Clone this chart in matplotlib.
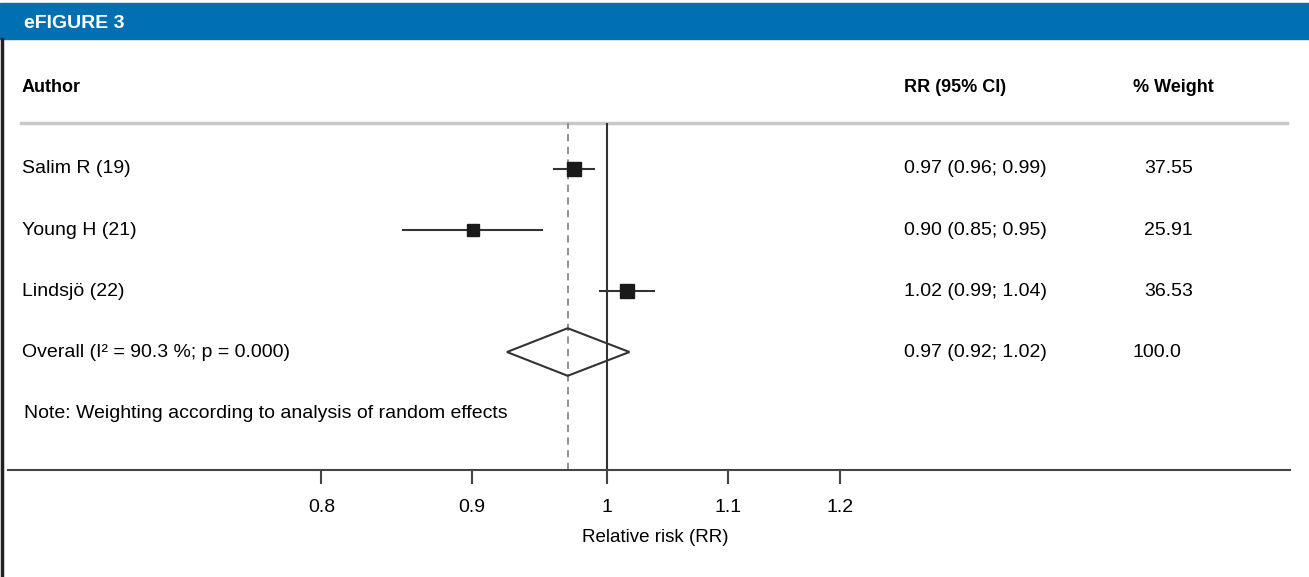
import matplotlib
matplotlib.use('Agg')
import matplotlib.pyplot as plt
from matplotlib.patches import Rectangle, Polygon
from matplotlib.lines import Line2D
import numpy as np

# Daten der Studien
authors = ['Salim R (19)', 'Young H (21)', 'Lindsjö (22)']
rr = [0.975, 0.901, 1.016]
ci_low = [0.960, 0.853, 0.995]
ci_high = [0.990, 0.951, 1.038]
weight = [37.55, 25.91, 36.53]
rr_text = ['0.97 (0.96; 0.99)', '0.90 (0.85; 0.95)', '1.02 (0.99; 1.04)']
weight_text = ['37.55', '25.91', '36.53']

# Gesamteffekt
overall_label = 'Overall (I² = 90.3 %; p = 0.000)'
overall_rr = 0.970
overall_low = 0.925
overall_high = 1.018
overall_text = '0.97 (0.92; 1.02)'
overall_weight = '100.0'

note = 'Note: Weighting according to analysis of random effects'
ticks = [0.8, 0.9, 1, 1.1, 1.2]
tick_labels = ['0.8', '0.9', '1', '1.1', '1.2']

plt.rcParams['font.family'] = ['Liberation Sans', 'DejaVu Sans']

W, H = 1309, 577
fig = plt.figure(figsize=(W / 100, H / 100), dpi=100)

def px(x, y):
    return x / W, 1 - y / H

# Kopfzeile
fig.patches.append(Rectangle((0, 1 - 39 / H), 1, 36 / H, transform=fig.transFigure,
                             color='#0070B2', zorder=0))
fig.text(*px(24, 23), 'eFIGURE 3', color='white', fontsize=14, fontweight='bold',
         va='center', ha='left')
fig.add_artist(Line2D([1.5 / W, 1.5 / W], [0, 1 - 39 / H], color='#222222', lw=2.5))

# Forest-Plot Achse
ax = fig.add_axes([8 / W, (H - 470) / H, 1282 / W, 347 / H])
ax.set_xscale('log')
ax.set_xlim(0.626, 1.707)
ax.set_ylim(4.934, -0.754)
for s in ['top', 'left', 'right']:
    ax.spines[s].set_visible(False)
ax.spines['bottom'].set_color('#444444')
ax.spines['bottom'].set_linewidth(1.5)
ax.set_yticks([])
ax.set_xticks(ticks)
ax.set_xticklabels(tick_labels)
ax.xaxis.set_minor_locator(matplotlib.ticker.NullLocator())
ax.tick_params(axis='x', direction='out', length=10, width=1.5, color='#444444',
               labelsize=14, pad=11)
ax.set_xlabel('Relative risk (RR)', fontsize=13.5)
ax.xaxis.set_label_coords((655 - 8) / 1282, -0.17)

# Trennlinie unter der Kopfzeile
ax.plot([13 / 1282, 1279 / 1282], [1, 1], transform=ax.transAxes, color='#c8c8c8',
        lw=2.5, clip_on=False)

ax.axvline(1, color='#333333', lw=1.5)
ax.axvline(overall_rr, color='#888888', lw=1.3, ls=(0, (4, 3)))

ys = np.arange(len(authors))
for i in range(len(authors)):
    ax.plot([ci_low[i], ci_high[i]], [ys[i], ys[i]], color='#333333', lw=1.5)
    ax.plot(rr[i], ys[i], marker='s', color='#1a1a1a',
            markersize=np.sqrt(weight[i]) * 1.75, zorder=3)

yo = len(authors)
diamond = Polygon([[overall_low, yo], [overall_rr, yo - 0.39], [overall_high, yo],
                   [overall_rr, yo + 0.39]], closed=True, fill=False,
                  edgecolor='#333333', lw=1.5, zorder=3)
ax.add_patch(diamond)

# Text-Spalten
tr = ax.get_yaxis_transform()
def xa(xp):
    return (xp - 8) / 1282

hy = -0.754 + (88 - 123) / 61.0
ax.text(xa(22), hy, 'Author', transform=tr, fontsize=13, fontweight='bold',
        va='center', clip_on=False)
ax.text(xa(904), hy, 'RR (95% CI)', transform=tr, fontsize=13, fontweight='bold',
        va='center', clip_on=False)
ax.text(xa(1133), hy, '% Weight', transform=tr, fontsize=13, fontweight='bold',
        va='center', clip_on=False)

fs = 14
for i in range(len(authors)):
    ax.text(xa(22), ys[i], authors[i], transform=tr, fontsize=fs, va='center')
    ax.text(xa(904), ys[i], rr_text[i], transform=tr, fontsize=fs, va='center')
    ax.text(xa(1144), ys[i], weight_text[i], transform=tr, fontsize=fs, va='center')

ax.text(xa(22), yo, overall_label, transform=tr, fontsize=fs, va='center')
ax.text(xa(904), yo, overall_text, transform=tr, fontsize=fs, va='center')
ax.text(xa(1133), yo, overall_weight, transform=tr, fontsize=fs, va='center')
ax.text(xa(24), yo + 1, note, transform=tr, fontsize=fs, va='center')

fig.savefig('out.png', dpi=100)
